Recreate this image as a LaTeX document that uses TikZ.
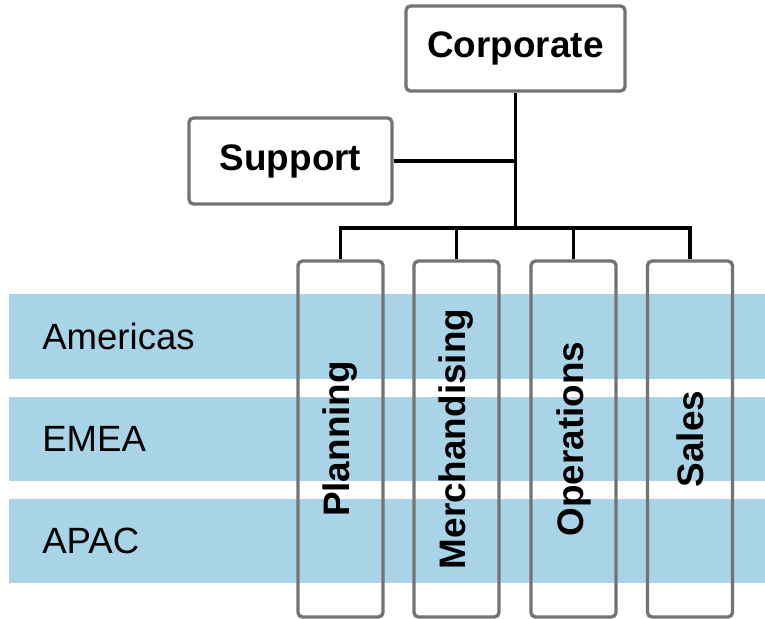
\documentclass[tikz,border=0pt]{standalone}
\usepackage{fontspec}
\setmainfont{Liberation Sans}
\definecolor{bandblue}{RGB}{169,211,231}
\definecolor{boxgray}{RGB}{115,115,115}
\tikzset{
  orgbox/.style={draw=boxgray, line width=1.9pt, rounded corners=0.09cm,
    inner sep=0pt, align=center, font=\fontsize{21}{25}\selectfont\bfseries},
  unitbox/.style={orgbox, minimum width=1.70cm, minimum height=7.12cm},
  band/.style={fill=bandblue, draw=none},
  region/.style={anchor=west, inner sep=0pt, font=\fontsize{20.8}{25}\selectfont},
  link/.style={line width=2.2pt}
}
\begin{document}
\begin{tikzpicture}[x=0.02cm,y=-0.02cm]
\useasboundingbox (0,0) rectangle (765,619);
% region bands
\fill[band] (9,294) rectangle (765,379);
\fill[band] (9,397) rectangle (765,481);
\fill[band] (9,499) rectangle (765,583);
\node[region] (amer) at (42,336.5) {Americas};
\node[region] (emea) at (42,439) {EMEA};
\node[region] (apac) at (42,541) {APAC};
% boxes
\node[orgbox, minimum width=4.38cm, minimum height=1.70cm] (corp) at (515.5,48.5)
{Corporate};
\node[orgbox, minimum width=4.06cm, minimum height=1.72cm] (supp) at (290.5,161)
{Support};
\node[unitbox] (plan) at (340.5,439) {\rotatebox{90}{Planning}};
\node[unitbox] (merch) at (456.5,439) {\rotatebox{90}{Merchandising}};
\node[unitbox] (oper) at (573.5,439) {\rotatebox{90}{Operations}};
\node[unitbox] (sales) at (690,439) {\rotatebox{90}{Sales}};
% connectors
\coordinate (hub) at (515.5,228);
\draw[link] (corp.south) -- (hub);
\draw[link] (supp.east) -- (supp.east -| corp.south);
\draw[link] (plan.north) -- (plan.north |- hub) -- (sales.north |- hub) -- (sales.north);
\draw[link] (merch.north) -- (merch.north |- hub);
\draw[link] (oper.north) -- (oper.north |- hub);
\end{tikzpicture}
\end{document}
